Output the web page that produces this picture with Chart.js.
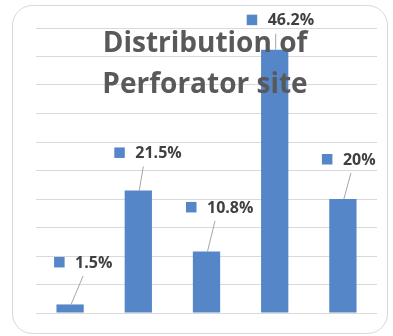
<!DOCTYPE html>
<html><head><meta charset="utf-8">
<script src="https://cdn.jsdelivr.net/npm/chart.js@4/dist/chart.umd.min.js"></script>
<style>html,body{margin:0;padding:0;background:#fff}canvas{display:block}</style>
</head><body>
<canvas id="c" width="393" height="336"></canvas>
<script>
// ---- data ----
const categories = ['Site 1', 'Site 2', 'Site 3', 'Site 4', 'Site 5'];
const values = [1.5, 21.5, 10.8, 46.2, 20];
const valueLabels = ['1.5%', '21.5%', '10.8%', '46.2%', '20%'];
const yMin = 0, yMax = 50, yStep = 5;
const titleLines = ['Distribution of', 'Perforator site'];

// ---- label placement (offsets from each bar's top centre) ----
const labelOffsets = [[-16, -42.5], [-24, -38], [-20.5, -44.5], [-28, -30], [-21, -40]];

const BLUE = '#5586C7';

const framePlugin = {
  id: 'frame',
  beforeDraw(chart) {
    const ctx = chart.ctx;
    ctx.save();
    ctx.fillStyle = '#fff';
    ctx.fillRect(0, 0, chart.width, chart.height);
    ctx.strokeStyle = '#d9d9d9';
    ctx.lineWidth = 1;
    ctx.beginPath();
    ctx.roundRect(12.5, 5.5, 375, 328, 20);
    ctx.stroke();
    ctx.restore();
  }
};

const labelPlugin = {
  id: 'barLabels',
  afterDatasetsDraw(chart) {
    const ctx = chart.ctx;
    const meta = chart.getDatasetMeta(0);
    ctx.save();
    ctx.font = 'bold 16px "Open Sans"';
    ctx.textBaseline = 'middle';
    ctx.textAlign = 'left';
    meta.data.forEach((bar, i) => {
      const [dx, dy] = labelOffsets[i];
      const sx = bar.x + dx, cy = bar.y + dy;
      const tx = sx + 21;
      // leader line
      ctx.strokeStyle = '#a6a6a6';
      ctx.lineWidth = 1;
      ctx.beginPath();
      ctx.moveTo(tx + 8, cy + 14);
      ctx.lineTo(bar.x + 1, bar.y);
      ctx.stroke();
      // legend key
      ctx.fillStyle = BLUE;
      ctx.fillRect(sx, cy - 5, 10.5, 10.5);
      // text
      ctx.fillStyle = '#404040';
      ctx.fillText(valueLabels[i], tx, cy + 1);
    });
    ctx.restore();
  }
};

const titlePlugin = {
  id: 'overlayTitle',
  afterDraw(chart) {
    const ctx = chart.ctx;
    ctx.save();
    ctx.font = 'bold 28px "Open Sans"';
    ctx.fillStyle = '#595959';
    ctx.textAlign = 'center';
    ctx.textBaseline = 'alphabetic';
    ctx.fillText(titleLines[0], 205, 52);
    ctx.fillText(titleLines[1], 205, 93);
    ctx.restore();
  }
};

new Chart(document.getElementById('c'), {
  type: 'bar',
  data: {
    labels: categories,
    datasets: [{
      data: values,
      backgroundColor: BLUE,
      borderWidth: 0,
      barPercentage: 0.4,
      categoryPercentage: 1
    }]
  },
  options: {
    responsive: false,
    animation: false,
    devicePixelRatio: 1,
    layout: { padding: { left: 36, right: 16, top: 28, bottom: 23 } },
    plugins: { legend: { display: false }, title: { display: false }, tooltip: { enabled: false } },
    scales: {
      x: { display: false },
      y: {
        min: yMin, max: yMax,
        ticks: { display: false, stepSize: yStep },
        grid: { color: '#d9d9d9', drawTicks: false, lineWidth: 1 },
        border: { display: false },
        afterFit(s) { s.width = 0; }
      }
    }
  },
  plugins: [framePlugin, labelPlugin, titlePlugin]
});
</script>
</body></html>
